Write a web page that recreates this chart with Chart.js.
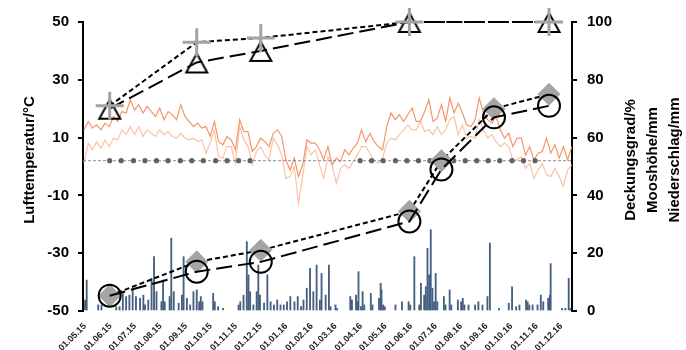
<!DOCTYPE html>
<html>
<head>
<meta charset="utf-8">
<script src="https://cdn.jsdelivr.net/npm/chart.js@4.4.1/dist/chart.umd.min.js"></script>
<style>
  html, body { margin: 0; background: #fff; }
</style>
</head>
<body>
<canvas id="chart" width="686" height="350"></canvas>
<script>
// x-Achse: Tage seit 01.05.15
const monthDays = [0, 31, 61, 92, 123, 153, 184, 214, 245, 276, 305, 336, 366, 397, 427, 458, 489, 519, 550, 580];
const monthLabels = ['01.05.15', '01.06.15', '01.07.15', '01.08.15', '01.09.15', '01.10.15', '01.11.15', '01.12.15',
  '01.01.16', '01.02.16', '01.03.16', '01.04.16', '01.05.16', '01.06.16', '01.07.16', '01.08.16',
  '01.09.16', '01.10.16', '01.11.16', '01.12.16'];
const tempTicks = [-50, -30, -10, 10, 30, 50];
const rightTicks = [0, 20, 40, 60, 80, 100];

// Lufttemperatur (ca. alle 5 Tage)
const tempStart = -1.2;
const tempStep = 5.12;
const tempHigh = [
  12.7, 15.6, 13.3, 14.4, 12.7, 15.0, 13.8, 17.3, 15.6, 19.0, 18.5, 23.1, 19.6, 21.4, 18.5, 20.8, 19.0, 17.3, 20.2, 16.2,
  19.0, 17.9, 16.2, 21.4, 17.3, 15.6, 13.8, 15.0, 13.3, 13.8,
  10.4, 15.6, 8.6, 7.5, 10.4, 9.2, 5.8, 16.2, 12.1, 12.1, 5.2, 6.9, 9.8, 8.6, 6.9, 11.5, 12.7, 10.4, 2.3, -1.2,
  2.9, -3.5, 0.6, 9.2, 8.1, 8.1, 5.8, 2.3, 6.9,
  0.6, 2.9, 1.7, 5.8, 4.0, 6.3, 8.1, 12.7, 8.6, 11.5, 8.6, 6.9, 5.8, 13.8, 18.5, 16.2, 17.9, 15.6, 17.9, 20.2,
  15.6, 15.6, 19.0, 23.1, 15.6, 16.7, 21.4, 15.6,
  23.7, 18.5, 21.9, 18.5, 14.4, 13.8, 16.2, 23.7, 18.5, 16.2, 15.0, 17.3, 12.7, 9.8, 11.5, 6.9, 9.8, 9.8, 4.0, 6.9,
  2.3, 4.6, 5.2, 9.8, 4.6, 7.5, 2.9, 6.9, 2.3, 6.9
];
const tempLow = [
  1.2, 8.1, 5.8, 8.6, 6.3, 9.2, 6.9, 9.8, 9.2, 12.7, 11.0, 13.8, 11.0, 13.8, 10.4, 12.7, 11.5, 10.4, 12.7, 11.0,
  12.1, 10.4, 9.8, 11.5, 9.8, 9.2, 9.8, 8.6, 9.2, 4.6,
  8.1, 12.7, 3.4, 2.9, 6.9, 6.9, 1.1, 13.8, 9.2, 6.9, 0.6, 5.2, 6.9, 4.0, 2.3, 9.8, 7.5, 4.0, -4.1, -3.5,
  0.0, -12.7, -3.5, 6.9, 4.0, 5.8, 0.6, -4.1, 3.4,
  0.6, -5.8, -0.6, 0.6, -0.6, 1.7, 4.0, 6.9, 6.9, 4.6, 2.3, 1.1, 2.9, 8.1, 9.8, 9.2, 11.0, 12.7, 14.4, 12.7,
  12.7, 15.6, 12.1, 12.7, 11.0, 13.8, 11.0, 12.7,
  16.2, 17.3, 11.0, 14.4, 9.8, 10.4, 9.8, 16.2, 12.7, 9.8, 11.0, 8.6, 6.9, 8.1, 6.9, 2.3, 2.3, 3.4, -0.6, 1.1,
  -4.1, -1.2, 1.1, -2.9, -3.5, -0.6, -3.5, -6.9, -1.2, 0.6
];

// Niederschlag/mm
const rainDays = [
  0, 2, 16, 20, 38, 42, 46, 50, 54, 58,
  62, 67, 71, 73, 77, 81, 84, 87, 93, 95,
  97, 103, 105, 108, 114, 118, 120, 124, 128, 132,
  136, 139, 141, 143, 156, 158, 162, 168, 187, 189,
  193, 197, 199, 201, 205, 209, 211, 213, 218, 222,
  226, 230, 234, 238, 242, 246, 250, 255, 259, 263,
  266, 270, 274, 278, 282, 286, 288, 293, 297, 299,
  305, 307, 323, 325, 330, 332, 333, 336, 338, 340,
  348, 350, 358, 360, 361, 363, 365, 378, 386, 394,
  396, 401, 407, 409, 413, 415, 417, 419, 421, 423,
  425, 427, 429, 437, 439, 444, 446, 454, 458, 460,
  462, 467, 475, 479, 484, 490, 493, 504, 516, 520,
  525, 529, 537, 539, 541, 545, 551, 555, 558, 564,
  566, 567, 581, 585, 589, 591
];
const rainMm = [
  3.8, 10.7, 2.1, 2.1, 1.5, 1.5, 6.1, 5.0, 5.5, 7.3,
  5.0, 4.4, 5.5, 2.1, 3.8, 11.3, 18.8, 6.7, 3.2, 10.7,
  3.2, 5.0, 25.2, 6.7, 2.7, 5.5, 18.8, 4.4, 2.1, 6.7,
  7.3, 3.2, 5.0, 3.2, 6.1, 3.2, 1.5, 0.9, 2.1, 3.2,
  5.5, 24.0, 12.5, 6.7, 2.1, 6.7, 15.9, 5.5, 2.7, 12.5,
  3.2, 2.1, 3.8, 2.1, 2.1, 3.2, 5.0, 3.2, 5.0, 1.5,
  3.8, 7.9, 14.8, 6.7, 15.9, 3.8, 13.0, 5.5, 15.9, 1.5,
  2.1, 0.9, 5.0, 3.8, 5.5, 3.2, 13.6, 1.5, 6.7, 2.1,
  6.1, 2.1, 4.4, 9.6, 7.3, 2.1, 1.5, 2.1, 3.2, 3.2,
  2.1, 18.8, 2.1, 9.6, 5.5, 8.4, 21.7, 12.5, 28.1, 7.9,
  3.2, 13.0, 3.2, 5.0, 2.1, 7.3, 2.1, 3.8, 3.2, 4.4,
  2.1, 2.1, 2.1, 3.2, 2.1, 5.0, 23.5, 0.9, 2.7, 8.4,
  1.5, 2.1, 3.8, 3.2, 2.1, 2.1, 2.1, 5.5, 3.2, 4.4,
  5.5, 16.4, 0.9, 0.9, 11.3, 0.9
];

// Deckungsgrad/% (Dreieck, Kreuz) und Mooshöhe/mm (Kreis, Raute)
const coverDays = [30, 136, 214, 395, 565];
const coverTriangle = [70, 86, 90, 100, 100];
const coverCross = [71, 93, 94.5, 100, 100];
const mossDays = [30, 136, 214, 395, 434, 498, 565];
const mossCircle = [5.3, 13.6, 17, 31, 49, 67, 71];
const mossDiamond = [5.3, 17, 21, 34.5, 52, 70, 75];

// Messtermine (graue Punkte)
const visitDays = [30, 44, 59, 73, 87, 101, 116, 130, 144, 159, 173, 187, 201,
  335, 349, 363, 378, 392, 406, 420, 434, 449, 463, 477, 491, 505, 520, 534, 548];
const visitLevel = 2;

const leftTitle = 'Lufttemperatur/°C';
const rightTitle = ['Deckungsgrad/%', 'Mooshöhe/mm', 'Niederschlag/mm'];

const xy = (xs, ys) => xs.map((x, i) => ({ x: x, y: ys[i] }));

// offenes Dreieck als Markierung
const triImg = document.createElement('canvas');
triImg.width = 28; triImg.height = 28;
(() => {
  const t = triImg.getContext('2d');
  t.strokeStyle = '#000';
  t.lineWidth = 2;
  t.beginPath();
  t.moveTo(14, 5);
  t.lineTo(24.5, 24);
  t.lineTo(3.5, 24);
  t.closePath();
  t.stroke();
})();

const axisTitles = {
  id: 'axisTitles',
  afterDraw(chart) {
    const ctx = chart.ctx;
    ctx.save();
    ctx.font = 'bold 15px Arial';
    ctx.fillStyle = '#000';
    ctx.textAlign = 'center';
    ctx.textBaseline = 'middle';
    const vText = (txt, x, y) => {
      ctx.save();
      ctx.translate(x, y);
      ctx.rotate(-Math.PI / 2);
      ctx.fillText(txt, 0, 0);
      ctx.restore();
    };
    vText(leftTitle, 30, 160);
    rightTitle.forEach((t, i) => vText(t, 631 + i * 22, 160));
    ctx.restore();
  }
};

const whiteBg = {
  id: 'whiteBg',
  beforeDraw(chart) {
    const ctx = chart.ctx;
    ctx.save();
    ctx.fillStyle = '#fff';
    ctx.fillRect(0, 0, chart.width, chart.height);
    ctx.restore();
  }
};

new Chart(document.getElementById('chart'), {
  type: 'line',
  data: {
    datasets: [
      {
        label: 'Deckungsgrad Kreuz',
        data: xy(coverDays, coverCross),
        yAxisID: 'y1',
        clip: false,
        borderColor: '#000',
        borderWidth: 2,
        borderDash: [5, 3],
        pointStyle: 'cross',
        pointRadius: 14,
        pointBorderColor: '#a3a3a3',
        pointBorderWidth: 3,
        order: 0
      },
      {
        label: 'Deckungsgrad Dreieck',
        data: xy(coverDays, coverTriangle),
        yAxisID: 'y1',
        clip: false,
        borderColor: '#000',
        borderWidth: 2,
        borderDash: [16, 6],
        pointStyle: triImg,
        order: 1
      },
      {
        label: 'Mooshöhe Kreis',
        data: xy(mossDays, mossCircle),
        yAxisID: 'y1',
        clip: false,
        borderColor: '#000',
        borderWidth: 2,
        borderDash: [16, 6],
        pointStyle: 'circle',
        pointRadius: 11,
        pointBorderWidth: 2,
        pointBorderColor: '#000',
        pointBackgroundColor: 'rgba(0,0,0,0)',
        order: 2
      },
      {
        label: 'Mooshöhe Raute',
        data: xy(mossDays, mossDiamond),
        yAxisID: 'y1',
        clip: false,
        borderColor: '#000',
        borderWidth: 2,
        borderDash: [5, 3],
        pointStyle: 'rectRot',
        pointRadius: 11,
        pointBorderWidth: 1,
        pointBorderColor: '#a5a5a5',
        pointBackgroundColor: '#a5a5a5',
        order: 3
      },
      {
        label: 'Messtermine',
        data: visitDays.map(d => ({ x: d, y: visitLevel })),
        yAxisID: 'y',
        showLine: false,
        pointStyle: 'circle',
        pointRadius: 2.6,
        pointBorderWidth: 0,
        pointBackgroundColor: '#5f6366',
        order: 4
      },
      {
        label: 'Linie',
        data: [{ x: -2.5, y: visitLevel }, { x: 593, y: visitLevel }],
        yAxisID: 'y',
        borderColor: '#8a8a8a',
        borderWidth: 1,
        borderDash: [3, 2],
        pointRadius: 0,
        order: 5
      },
      {
        label: 'Temperatur 1',
        data: tempHigh.map((v, i) => ({ x: tempStart + i * tempStep, y: v })),
        yAxisID: 'y',
        borderColor: '#f5956a',
        borderWidth: 1.2,
        pointRadius: 0,
        order: 6
      },
      {
        label: 'Temperatur 2',
        data: tempLow.map((v, i) => ({ x: tempStart + i * tempStep, y: v })),
        yAxisID: 'y',
        borderColor: '#fbc3a6',
        borderWidth: 1.2,
        pointRadius: 0,
        order: 7
      },
      {
        type: 'bar',
        label: 'Niederschlag',
        data: xy(rainDays, rainMm),
        yAxisID: 'y1',
        backgroundColor: '#456080',
        barThickness: 1.2,
        order: 8
      }
    ]
  },
  options: {
    responsive: false,
    animation: false,
    layout: { padding: { top: 22, left: 0, right: 0, bottom: 0 } },
    plugins: { legend: { display: false }, tooltip: { enabled: false } },
    scales: {
      x: {
        type: 'linear',
        min: -2.5,
        max: 593,
        offset: false,
        grid: { display: false },
        border: { display: false },
        afterBuildTicks: s => { s.ticks = monthDays.map(v => ({ value: v })); },
        afterFit: s => { s.height = 39; },
        ticks: {
          autoSkip: false,
          minRotation: 45,
          maxRotation: 45,
          padding: 2,
          color: '#222',
          font: { family: 'Arial', size: 9, weight: 'bold' },
          callback: (v, i) => monthLabels[i]
        }
      },
      y: {
        position: 'left',
        min: -50,
        max: 50,
        afterBuildTicks: s => { s.ticks = tempTicks.map(v => ({ value: v })); },
        afterFit: s => { s.width = 83; },
        grid: { drawOnChartArea: false, color: '#000', lineWidth: 2, tickLength: 5 },
        border: { color: '#000', width: 2 },
        ticks: {
          padding: 9,
          color: '#000',
          font: { family: 'Arial', size: 15, weight: 'bold' }
        }
      },
      y1: {
        position: 'right',
        min: 0,
        max: 100,
        afterBuildTicks: s => { s.ticks = rightTicks.map(v => ({ value: v })); },
        afterFit: s => { s.width = 114; },
        grid: { drawOnChartArea: false, color: '#000', lineWidth: 2, tickLength: 5 },
        border: { color: '#000', width: 2 },
        ticks: {
          padding: 10,
          color: '#000',
          font: { family: 'Arial', size: 15, weight: 'bold' }
        }
      }
    }
  },
  plugins: [whiteBg, axisTitles]
});
</script>
</body>
</html>
